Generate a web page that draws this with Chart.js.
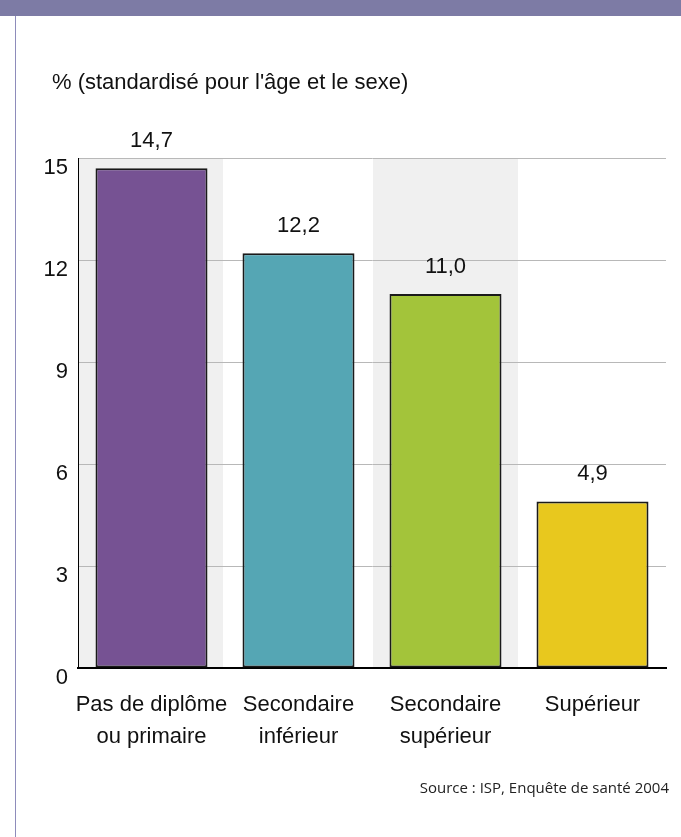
<!DOCTYPE html>
<html>
<head>
<meta charset="utf-8">
<script src="https://cdn.jsdelivr.net/npm/chart.js@4/dist/chart.umd.min.js"></script>
<style>
html,body{margin:0;padding:0;background:#fff;}
#wrap{position:relative;width:681px;height:837px;}
canvas{display:block;}
</style>
</head>
<body>
<div id="wrap"><canvas id="c" width="681" height="837"></canvas></div>
<script>
const categories = [["Pas de diplôme","ou primaire"],["Secondaire","inférieur"],["Secondaire","supérieur"],["Supérieur"]];
const values = [14.7, 12.2, 11.0, 4.9];
const barColors = ["#765293","#55a6b4","#a3c43a","#e8c81e"];
const yTicks = [0,3,6,9,12,15];
const titleText = "% (standardisé pour l'âge et le sexe)";
const sourceText = "Source : ISP, Enquête de santé 2004";

const FONT = "'Liberation Sans', Arial, sans-serif";

const decor = {
  id: 'decor',
  beforeDraw(chart) {
    const ctx = chart.ctx;
    ctx.save();
    ctx.fillStyle = '#fff';
    ctx.fillRect(0, 0, chart.width, chart.height);
    // header band
    ctx.fillStyle = '#7d7ba5';
    ctx.fillRect(0, 0, chart.width, 16);
    // left border
    ctx.fillStyle = '#8e8cbb';
    ctx.fillRect(15, 16, 1, chart.height - 16);
    // shaded category bands
    const xs = chart.scales.x, area = chart.chartArea;
    const cw = (area.right - area.left) / categories.length;
    ctx.fillStyle = '#f0f0f0';
    [0, 2].forEach(i => {
      const c = xs.getPixelForValue(i);
      ctx.fillRect(c - cw / 2 + (i ? 1 : 0), area.top, cw - 2, area.bottom - area.top);
    });
    // title
    ctx.fillStyle = '#111';
    ctx.font = "22px " + FONT;
    ctx.textBaseline = 'alphabetic';
    ctx.textAlign = 'left';
    ctx.fillText(titleText, 52, 89);
    // source
    ctx.font = "15px 'Open Sans', 'Noto Sans', sans-serif";
    ctx.textAlign = 'right';
    ctx.fillStyle = '#222';
    ctx.fillText(sourceText, 669, 793);
    ctx.restore();
  },
  afterDatasetsDraw(chart) {
    const ctx = chart.ctx;
    const meta = chart.getDatasetMeta(0);
    ctx.save();
    ctx.fillStyle = '#111';
    ctx.font = "22px " + FONT;
    ctx.textAlign = 'center';
    ctx.textBaseline = 'alphabetic';
    meta.data.forEach((bar, i) => {
      ctx.fillText(values[i].toFixed(1).replace('.', ','), bar.x, bar.y - 21);
    });
    ctx.restore();
  }
};

new Chart(document.getElementById('c'), {
  type: 'bar',
  data: {
    labels: categories,
    datasets: [{
      data: values,
      backgroundColor: barColors,
      borderColor: '#1a1a1a',
      borderWidth: 2,
      borderSkipped: false,
      barPercentage: 0.762,
      categoryPercentage: 1
    }]
  },
  options: {
    responsive: false,
    animation: false,
    layout: { padding: { left: 0, right: 15, top: 158, bottom: 69 } },
    plugins: { legend: { display: false }, tooltip: { enabled: false } },
    scales: {
      x: {
        grid: { display: false, drawTicks: false },
        border: { display: true, color: '#000', width: 2 },
        ticks: {
          color: '#111',
          font: { family: FONT, size: 22, lineHeight: 1.45 },
          padding: 21,
          maxRotation: 0,
          autoSkip: false
        },
        afterFit(s) { s.height = 100; }
      },
      y: {
        min: 0, max: 15,
        afterBuildTicks(s) { s.ticks = yTicks.map(v => ({ value: v })); },
        grid: { color: '#b8b8b8', lineWidth: 1, drawTicks: false },
        border: { display: true, color: '#000', width: 1 },
        ticks: {
          color: '#111',
          font: { family: FONT, size: 22 },
          padding: 10,
          labelOffset: 10
        },
        afterFit(s) { s.width = 78; }
      }
    }
  },
  plugins: [decor]
});
</script>
</body>
</html>
